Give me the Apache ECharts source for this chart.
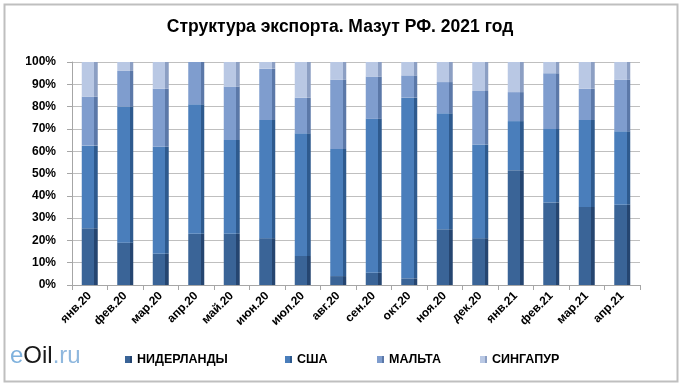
<!DOCTYPE html>
<html><head><meta charset="utf-8">
<script src="https://cdn.jsdelivr.net/npm/echarts@6/dist/echarts.min.js"></script>
<style>html,body{margin:0;padding:0;background:#fff}#c{width:680px;height:384px}</style>
</head><body><div id="c"></div>
<script>
const categories = ['янв.20','фев.20','мар.20','апр.20','май.20','июн.20','июл.20','авг.20','сен.20','окт.20','ноя.20','дек.20','янв.21','фев.21','мар.21','апр.21'];
const seriesNames = ['НИДЕРЛАНДЫ','США','МАЛЬТА','СИНГАПУР'];
const netherlands = [25.5, 19, 14, 23, 23, 21, 13, 4, 5.5, 3, 25, 21, 51.5, 37, 35, 36];
const usa         = [37, 61, 48, 58, 42, 53, 55, 57, 69, 81, 52, 42, 22, 33, 39, 33];
const malta       = [22, 16, 26, 19, 24, 23, 16, 31, 19, 10, 14, 24, 13, 25, 14, 23];
const singapore   = [15.5, 4, 12, 0, 11, 3, 16, 8, 6.5, 6, 9, 13, 13.5, 5, 12, 8];

const font = '"Liberation Sans Narrow","Arial Narrow",Arial,"Liberation Sans",sans-serif';
const faceColors = ['#3A6497','#4A7EBB','#7F9DCE','#B9C8E4'];
const sideColors = ['#254570','#2E5A8E','#5B78A8','#8C9FC3'];
const values = [netherlands, usa, malta, singapore];

function grad(i){
  return {type:'linear',x:0,y:0,x2:1,y2:0,colorStops:[
    {offset:0,color:faceColors[i]},{offset:0.78,color:faceColors[i]},
    {offset:0.78,color:sideColors[i]},{offset:1,color:sideColors[i]}]};
}

const chart = echarts.init(document.getElementById('c'));
const legendLeft = [120, 280, 372, 475];
chart.setOption({
  animation:false,
  backgroundColor:'#fff',
  textStyle:{fontFamily:font},
  title:{text:'Структура экспорта. Мазут РФ. 2021 год',left:'center',top:13,
    textStyle:{fontFamily:font,fontWeight:'bold',fontSize:17.5,color:'#000'}},
  legend: seriesNames.map((n,i)=>({data:[n],left:legendLeft[i],top:348,itemWidth:7,itemHeight:7,itemGap:10,
    icon:'rect',textStyle:{fontFamily:font,fontSize:12.5,fontWeight:'bold',color:'#000'}})),
  grid:{left:72,right:40,top:62,bottom:99},
  xAxis:{type:'category',data:categories,
    axisLine:{lineStyle:{color:'#a6a6a6'}},axisTick:{show:true,lineStyle:{color:'#a6a6a6'}},
    axisLabel:{rotate:45,interval:0,color:'#000',fontFamily:font,fontWeight:'bold',fontSize:12,margin:9}},
  yAxis:{type:'value',min:0,max:100,interval:10,
    axisLine:{show:true,lineStyle:{color:'#a6a6a6'}},axisTick:{show:true,lineStyle:{color:'#a6a6a6'}},
    splitLine:{lineStyle:{color:'#bfbfbf'}},
    axisLabel:{formatter:v=>v+'%',color:'#000',fontFamily:font,fontWeight:'bold',fontSize:12,margin:16}},
  series: seriesNames.map((n,i)=>({name:n,type:'bar',stack:'total',barWidth:16,
    data:values[i],itemStyle:{color:grad(i)}})),
  color: faceColors,
  graphic:[
    {type:'rect',left:2,top:2,shape:{width:673,height:377},style:{fill:'none',stroke:'#bfbfbf',lineWidth:2},silent:true},
    {type:'text',left:10,top:344,style:{rich:{
        a:{fill:'#7EB1DD',fontSize:24,fontFamily:'Liberation Sans, Arial, sans-serif'},
        b:{fill:'#1a1a1a',fontSize:24,fontFamily:'Liberation Sans, Arial, sans-serif'},
        c:{fill:'#8FB8DE',fontSize:24,fontFamily:'Liberation Sans, Arial, sans-serif'}},
      text:'{a|e}{b|Oil}{c|.ru}'}}
  ]
});
</script></body></html>
